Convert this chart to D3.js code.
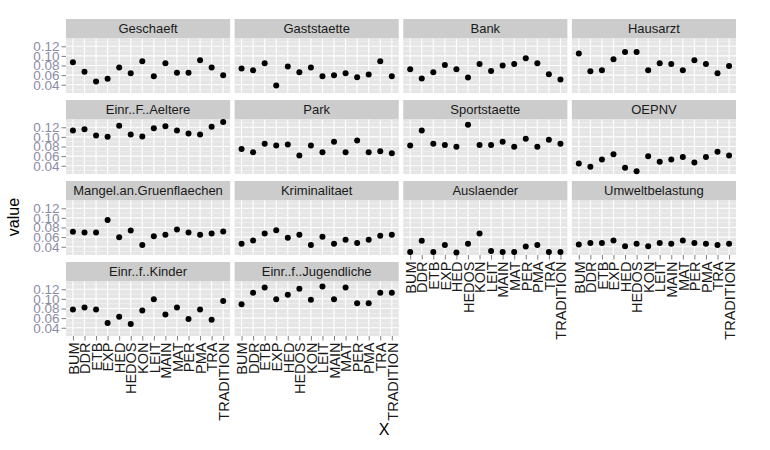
<!DOCTYPE html>
<html><head><meta charset="utf-8">
<script src="https://cdn.jsdelivr.net/npm/d3@7"></script>
<style>body{margin:0;background:#fff}svg{display:block}</style>
</head><body><svg id="chart" width="770" height="450"></svg>
<script>
const categories = ["BUM","DDR","ETB","EXP","HED","HEDOS","KON","LEIT","MAIN","MAT","PER","PMA","TRA","TRADITION"];
const facetNames = ["Geschaeft","Gaststaette","Bank","Hausarzt","Einr..F..Aeltere","Park","Sportstaette","OEPNV","Mangel.an.Gruenflaechen","Kriminalitaet","Auslaender","Umweltbelastung","Einr..f..Kinder","Einr..f..Jugendliche"];
const yTicks = [0.04,0.06,0.08,0.10,0.12];
const yMinor = [0.03,0.05,0.07,0.09,0.11,0.13];

const geschaeft     = [0.087,0.067,0.047,0.0525,0.076,0.064,0.089,0.0575,0.0845,0.065,0.065,0.091,0.076,0.0595];
const gaststaette   = [0.074,0.070,0.0845,0.0386,0.078,0.066,0.076,0.0575,0.060,0.064,0.0555,0.0615,0.089,0.0575];
const bank          = [0.072,0.053,0.066,0.081,0.072,0.055,0.083,0.0685,0.080,0.083,0.095,0.0845,0.062,0.051];
const hausarzt      = [0.105,0.068,0.070,0.093,0.108,0.108,0.070,0.0845,0.083,0.070,0.091,0.083,0.064,0.079];
const aeltere       = [0.1135,0.116,0.103,0.1005,0.123,0.105,0.101,0.118,0.122,0.1135,0.107,0.105,0.121,0.131];
const park          = [0.075,0.068,0.0855,0.082,0.084,0.0615,0.082,0.068,0.090,0.068,0.0925,0.068,0.070,0.066];
const sportstaette  = [0.082,0.1135,0.0855,0.083,0.0795,0.125,0.083,0.083,0.090,0.0795,0.096,0.0795,0.094,0.0855];
const oepnv         = [0.0445,0.038,0.053,0.064,0.036,0.0285,0.060,0.0485,0.053,0.058,0.0465,0.058,0.069,0.0615];
const gruenflaechen = [0.071,0.0695,0.0695,0.0955,0.060,0.074,0.0435,0.062,0.065,0.076,0.0695,0.065,0.0675,0.0715];
const kriminalitaet = [0.046,0.053,0.0675,0.0745,0.0585,0.065,0.0435,0.061,0.046,0.0545,0.048,0.0545,0.063,0.065];
const auslaender    = [0.029,0.0525,0.029,0.0435,0.028,0.046,0.0675,0.031,0.029,0.029,0.0405,0.0435,0.029,0.029];
const umwelt        = [0.0445,0.048,0.048,0.053,0.041,0.046,0.041,0.048,0.046,0.053,0.048,0.046,0.0435,0.046];
const kinder        = [0.078,0.082,0.078,0.050,0.063,0.048,0.076,0.0995,0.0675,0.082,0.058,0.078,0.0565,0.0955];
const jugendliche   = [0.089,0.113,0.1235,0.0995,0.1085,0.121,0.098,0.126,0.0995,0.1235,0.091,0.091,0.113,0.113];

const facetValues = [geschaeft,gaststaette,bank,hausarzt,aeltere,park,sportstaette,oepnv,gruenflaechen,kriminalitaet,auslaender,umwelt,kinder,jugendliche];

const svg = d3.select("#chart");
const font = "Arial, 'Liberation Sans', sans-serif";
const ncol = 4;
const left = 66, right = 736, gapX = 4.5;
const pw = (right - left - gapX*(ncol-1)) / ncol;
const rowTops = [19, 100, 181, 262];
const stripH = 19.5, ph = 54.5;

const allVals = facetValues.flat();
const lo = d3.min(allVals), hi = d3.max(allVals), ex = (hi - lo) * 0.05;
const y0 = d3.scaleLinear().domain([lo - ex, hi + ex]);
const x0 = d3.scalePoint().domain(categories).padding(0.6);

const nrowOfCol = c => { let r = 0; facetNames.forEach((f,i)=>{ if (i % ncol === c) r = Math.floor(i/ncol); }); return r; };

facetNames.forEach((name, i) => {
  const r = Math.floor(i / ncol), c = i % ncol;
  const px = left + c * (pw + gapX), sy = rowTops[r], py = sy + stripH;
  const x = x0.copy().range([px, px + pw]);
  const y = y0.copy().range([py + ph, py]);
  const g = svg.append("g");
  // strip
  g.append("rect").attr("x", px).attr("y", sy).attr("width", pw).attr("height", stripH).attr("fill", "#CCCCCC");
  g.append("text").attr("x", px + pw/2).attr("y", sy + stripH/2).attr("dy", "0.36em")
    .attr("text-anchor", "middle").attr("font-family", font).attr("font-size", 13).attr("fill", "#1a1a1a").text(name);
  // panel
  g.append("rect").attr("x", px).attr("y", py).attr("width", pw).attr("height", ph).attr("fill", "#E5E5E5");
  g.selectAll(".mn").data(yMinor.filter(v => v >= y.domain()[0] && v <= y.domain()[1])).join("line")
    .attr("x1", px).attr("x2", px + pw).attr("y1", d => y(d)).attr("y2", d => y(d))
    .attr("stroke", "#F2F2F2").attr("stroke-width", 0.7);
  g.selectAll(".mj").data(yTicks).join("line")
    .attr("x1", px).attr("x2", px + pw).attr("y1", d => y(d)).attr("y2", d => y(d))
    .attr("stroke", "#FFFFFF").attr("stroke-width", 1.1);
  g.selectAll(".vx").data(categories).join("line")
    .attr("x1", d => x(d)).attr("x2", d => x(d)).attr("y1", py).attr("y2", py + ph)
    .attr("stroke", "#FFFFFF").attr("stroke-width", 1.1);
  // points
  g.selectAll("circle").data(categories.map((k, j) => ({k, v: facetValues[i][j]}))).join("circle")
    .attr("cx", d => x(d.k)).attr("cy", d => y(d.v)).attr("r", 3).attr("fill", "#000");
  // y axis
  if (c === 0) {
    const ya = d3.axisLeft(y).tickValues(yTicks).tickFormat(d3.format(".2f")).tickSize(4.5).tickPadding(2);
    const ag = g.append("g").attr("transform", `translate(${px},0)`).call(ya);
    ag.select(".domain").remove();
    ag.selectAll("line").attr("stroke", "#7F7F7F");
    ag.selectAll("text").attr("font-family", font).attr("font-size", 13.5).attr("fill", "#8C8CA6");
  }
  // x axis on bottom panel of each column
  if (r === nrowOfCol(c)) {
    const xa = d3.axisBottom(x).tickSize(4.5).tickPadding(2);
    const ag = g.append("g").attr("transform", `translate(0,${py + ph})`).call(xa);
    ag.select(".domain").remove();
    ag.selectAll("line").attr("stroke", "#7F7F7F");
    ag.selectAll("text").attr("font-family", font).attr("font-size", 14.5).attr("fill", "#1a1a1a")
      .attr("transform", "rotate(-90)").attr("text-anchor", "end")
      .attr("x", -6.5).attr("y", 0).attr("dy", "0.36em");
  }
});

svg.append("text").attr("transform", "translate(13,217) rotate(-90)").attr("dy", "0.36em")
  .attr("text-anchor", "middle").attr("font-family", font).attr("font-size", 16).attr("fill", "#000").text("value");
svg.append("text").attr("x", 384).attr("y", 429).attr("dy", "0.36em")
  .attr("text-anchor", "middle").attr("font-family", font).attr("font-size", 16).attr("fill", "#000").text("X");
</script></body></html>
